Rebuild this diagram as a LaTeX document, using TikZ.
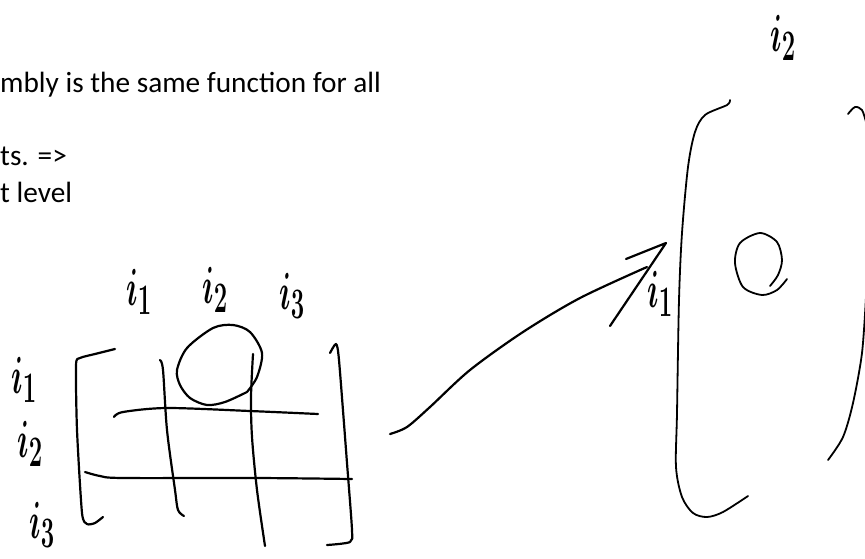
\documentclass[tikz,border=0pt]{standalone}
\usepackage{fontspec}
\setmainfont{Carlito}
\tikzset{
  ink/.style={line width=2.2pt, line cap=round, line join=round},
  thinink/.style={line width=1.8pt, line cap=round, line join=round},
  notetext/.style={anchor=base west, inner sep=0pt, font=\fontsize{29.3}{29.3}\selectfont},
  inklabel/.style={inner sep=0pt, font=\fontsize{24.88}{24.88}\selectfont\boldmath}
}

\begin{document}
\begin{tikzpicture}[x=1pt,y=-1pt]
  \useasboundingbox (0,0) rectangle (865,558);

  % Typed note, cut off by the left edge.
  \node[notetext] (noteone) at (0,92) {mbly is the same function for all};
  \node[notetext] (notetwo) at (0,165) {ts. =>};
  \node[notetext] (notethree) at (0,202) {t level};

  % Handwritten indices.
  \foreach \nm/\x/\y/\k in {topa/139/292/1,topb/215/290/2,topc/292/296/3,
                            lefta/24/380/1,leftb/30/444/2,leftc/42/525/3,
                            bigtop/783/38/2,bigleft/660/294/1}{
    \node[inklabel] (\nm) at (\x,\y) {\scalebox{1.15}[2.1]{$i_{\k}$}};
  }

  % Small matrix: brackets.
  \draw[ink] plot[smooth, tension=0.4] coordinates {(115,349) (95,354) (80,358) (76,365) (77,430) (82,513) (87,524) (95,523) (103,517)};
  \draw[ink] plot[smooth, tension=0.4] coordinates {(330,353) (336,344) (339,360) (347,463) (352,530) (350,542) (327,545)};

  % Small matrix: rows and columns.
  \draw[ink] plot[smooth] coordinates {(160,360) (163,370) (167,430) (175,490) (178,510) (184,516)};
  \draw[ink] plot[smooth] coordinates {(253,354) (251,397) (252,437) (257,490) (265,546)};
  \draw[ink] plot[smooth] coordinates {(114,417) (123,412) (167,408) (250,411) (318,414)};
  \draw[ink] plot[smooth] coordinates {(85,472) (100,476) (123,478) (257,478) (352,479)};

  % Picked entry.
  \draw[ink] plot[smooth] coordinates {(247,392) (225,402) (207,405) (190,398) (180,385) (177,370) (187,348)
    (213,328) (233,325) (250,332) (262,353) (257,377) (247,392)};

  % Arrow to the big matrix.
  \draw[ink] plot[smooth] coordinates {(390,434) (407,427) (430,407) (470,370) (523,332) (580,298) (647,267)};
  \draw[ink] (626,259) -- (666,243) -- (610,326);

  % Big matrix.
  \draw[thinink] plot[smooth, tension=0.5] coordinates {(730,100) (727,105) (705,115) (695,132) (688,167) (682,233)
    (679,300) (677,413) (676,467) (682,497) (693,513) (707,517) (723,512) (748,496)};
  \draw[thinink] plot[smooth] coordinates {(848,114) (855,107) (862,110) (866,122)};
  \draw[thinink] plot[smooth] coordinates {(866,297) (862,353) (853,403) (843,437) (828,460)};

  % Single entry of the big matrix.
  \draw[thinink] plot[smooth] coordinates {(787,279) (777,290) (762,295) (743,287) (735,263) (740,243) (760,233)
    (777,242) (782,260) (778,275) (770,286)};
\end{tikzpicture}
\end{document}
